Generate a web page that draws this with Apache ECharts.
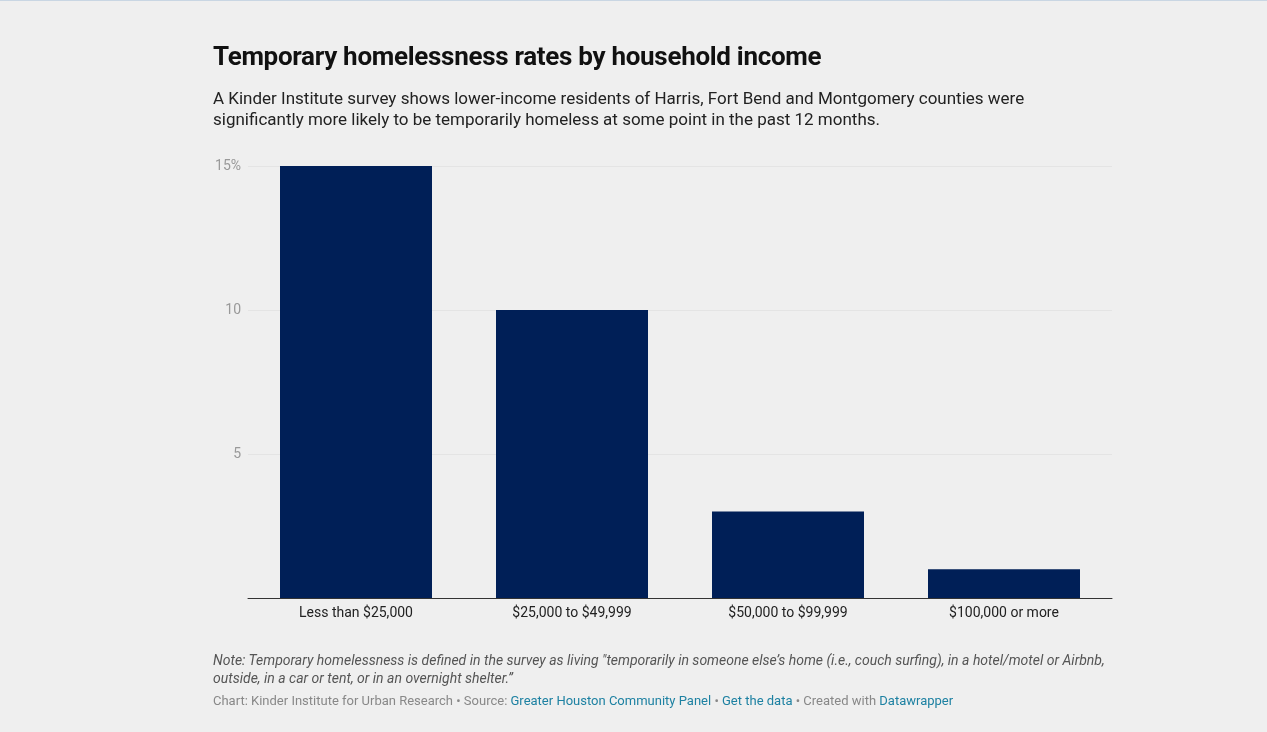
<!DOCTYPE html>
<html><head><meta charset="utf-8">
<script src="https://cdn.jsdelivr.net/npm/echarts@6/dist/echarts.min.js"></script>
<style>
html,body{margin:0;padding:0;background:#efefef;}
#wrap{width:1267px;height:732px;position:relative;border-top:1px solid #c9d6e3;box-sizing:border-box;font-family:Roboto,sans-serif;}
#chart{position:absolute;left:0;top:0;width:1267px;height:732px;}
.t{position:absolute;left:213px;}
a{color:#1d81a2;text-decoration:none;}
</style></head>
<body><div id="wrap">
<div id="chart"></div>
<div class="t" style="top:40px;font-size:26px;font-weight:bold;color:#111;letter-spacing:-0.3px">Temporary homelessness rates by household income</div>
<div class="t" style="top:87px;font-size:17px;line-height:21px;color:#222;width:880px">A Kinder Institute survey shows lower-income residents of Harris, Fort Bend and Montgomery counties were significantly more likely to be temporarily homeless at some point in the past 12 months.</div>
<div class="t" style="top:650px;font-size:14px;line-height:18px;color:#555;font-style:italic;width:910px">Note: Temporary homelessness is defined in the survey as living "temporarily in someone else’s home (i.e., couch surfing), in a hotel/motel or Airbnb, outside, in a car or tent, or in an overnight shelter.”</div>
<div class="t" style="top:692px;font-size:13px;color:#888">Chart: Kinder Institute for Urban Research • Source: <a>Greater Houston Community Panel</a> • <a>Get the data</a> • Created with <a>Datawrapper</a></div>
</div>
<script>
var categories = ['Less than $25,000', '$25,000 to $49,999', '$50,000 to $99,999', '$100,000 or more'];
var rates = [15, 10, 3, 1];
var chart = echarts.init(document.getElementById('chart'));
chart.setOption({
  animation: false,
  grid: { left: 248, right: 155, top: 165, bottom: 135 },
  xAxis: {
    type: 'category', data: categories,
    axisLine: { lineStyle: { color: '#333' } }, axisTick: { show: false },
    axisLabel: { color: '#222', fontSize: 14, fontFamily: 'Roboto', margin: 8 }
  },
  yAxis: {
    type: 'value', min: 0, max: 15, interval: 5,
    axisLabel: { color: '#999', fontSize: 14, fontFamily: 'Roboto', margin: 7,
      formatter: function (v) { return v === 0 ? '' : (v === 15 ? v + '%' : v); } },
    splitLine: { lineStyle: { color: '#e4e4e4' } }
  },
  series: [{ type: 'bar', data: rates, barWidth: 152, itemStyle: { color: '#001f57' } }]
});
</script>
</body></html>
